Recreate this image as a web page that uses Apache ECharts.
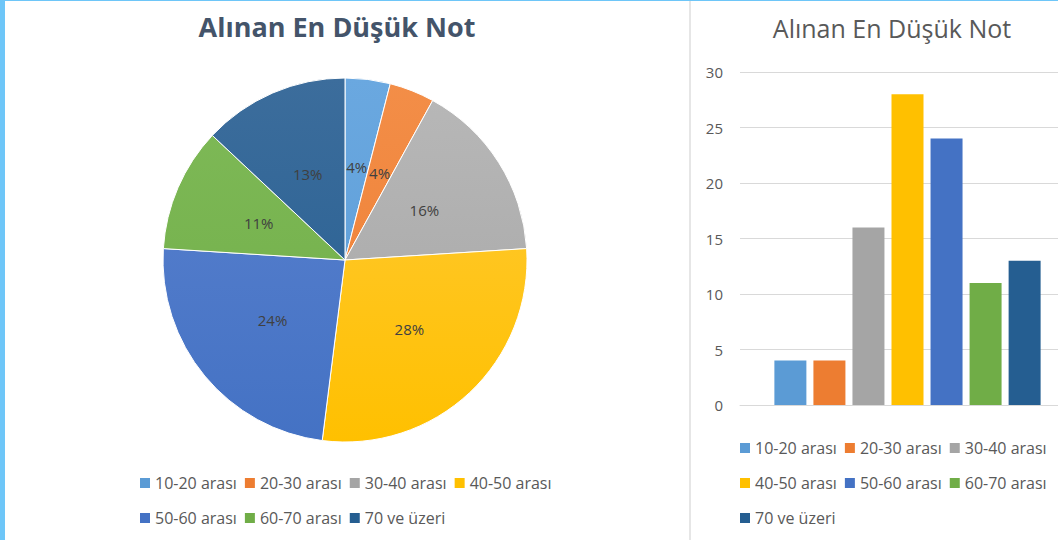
<!DOCTYPE html>
<html>
<head>
<meta charset="utf-8">
<script src="https://cdn.jsdelivr.net/npm/echarts@6/dist/echarts.min.js"></script>
<style>
html, body { margin: 0; padding: 0; background: #fff; }
.wrap { position: relative; width: 1058px; height: 540px; overflow: hidden; }
#chart { width: 1058px; height: 540px; }
/* cyan frame on top and left */
.edge-top { position: absolute; left: 0; top: 0; width: 1058px; height: 1px; background: #6ec6f8; }
.edge-left { position: absolute; left: 0; top: 0; width: 5px; height: 540px; background: #6ec6f8; }
.divider { position: absolute; left: 689px; top: 1px; width: 2px; height: 539px; background: #e6e6e6; }
</style>
</head>
<body>
<div class="wrap">
  <div id="chart"></div>
  <div class="divider"></div>
  <div class="edge-top"></div>
  <div class="edge-left"></div>
</div>
<script>
const title = 'Alınan En Düşük Not'
const categories = ['10-20 arası', '20-30 arası', '30-40 arası', '40-50 arası', '50-60 arası', '60-70 arası', '70 ve üzeri']
const counts = [4, 4, 16, 28, 24, 11, 13]
const yTicks = { min: 0, max: 30, interval: 5 }

const colors = ['#5b9bd5', '#ed7d31', '#a5a5a5', '#ffc000', '#4472c4', '#70ad47', '#255e91']
const topColors = ['#6aa8e0', '#f38e48', '#b8b8b8', '#ffcb3c', '#5b82cf', '#7fba58', '#3c6d9c']
const font = '"Open Sans", "Noto Sans", sans-serif'

const myChart = echarts.init(document.getElementById('chart'), null, { renderer: 'svg' })

// 饼图每块从上到下轻微渐变
const pieData = categories.map((name, i) => ({
  name: name,
  value: counts[i],
  itemStyle: {
    color: {
      type: 'linear', x: 0, y: 78, x2: 0, y2: 442, global: true,
      colorStops: [
        { offset: 0, color: topColors[i] },
        { offset: 1, color: colors[i] }
      ]
    }
  }
}))

const barSeries = categories.map((name, i) => ({
  name: name,
  type: 'bar',
  barWidth: 32,
  barGap: '22%',
  itemStyle: { color: colors[i] },
  data: [counts[i]]
}))

const legendBase = {
  icon: 'rect',
  itemWidth: 10,
  itemHeight: 10,
  itemGap: 8,
  padding: 0,
  orient: 'horizontal',
  textStyle: { color: '#595959', fontSize: 16, fontFamily: font }
}

const option = {
  animation: false,
  textStyle: { fontFamily: font },
  graphic: [
    {
      type: 'text', x: 337, y: 13,
      style: { text: title, font: 'bold 27px ' + font, fill: '#44546a', textAlign: 'center', textVerticalAlign: 'top' }
    },
    {
      type: 'text', x: 892, y: 15,
      style: { text: title, font: '25px ' + font, fill: '#595959', textAlign: 'center', textVerticalAlign: 'top' }
    }
  ],
  legend: [
    Object.assign({}, legendBase, { left: 140, top: 475, data: categories.slice(0, 4) }),
    Object.assign({}, legendBase, { left: 140, top: 510, data: categories.slice(4) }),
    Object.assign({}, legendBase, { left: 740, top: 440, data: categories.slice(0, 3) }),
    Object.assign({}, legendBase, { left: 740, top: 475, data: categories.slice(3, 6) }),
    Object.assign({}, legendBase, { left: 740, top: 510, data: categories.slice(6) })
  ],
  // 网格右侧超出画布，和原图一样被裁掉
  grid: {
    left: 740,
    right: -17,
    top: 72,
    bottom: 135,
    outerBoundsMode: 'none'
  },
  xAxis: {
    type: 'category',
    data: [''],
    axisTick: { show: false },
    axisLabel: { show: false },
    axisLine: { lineStyle: { color: '#d9d9d9' } }
  },
  yAxis: {
    type: 'value',
    min: yTicks.min,
    max: yTicks.max,
    interval: yTicks.interval,
    axisLine: { show: false },
    axisTick: { show: false },
    axisLabel: { color: '#595959', fontSize: 15, margin: 17 },
    splitLine: { lineStyle: { color: '#d9d9d9' } }
  },
  series: [
    {
      name: 'pie',
      type: 'pie',
      center: [345, 260],
      radius: 182,
      startAngle: 90,
      clockwise: true,
      label: {
        position: 'inside',
        color: '#404040',
        fontSize: 15,
        formatter: p => Math.round(p.percent) + '%'
      },
      labelLine: { show: false },
      itemStyle: { borderColor: '#ffffff', borderWidth: 1 },
      emphasis: { disabled: true },
      data: pieData
    }
  ].concat(barSeries)
}

myChart.setOption(option)
</script>
</body>
</html>
